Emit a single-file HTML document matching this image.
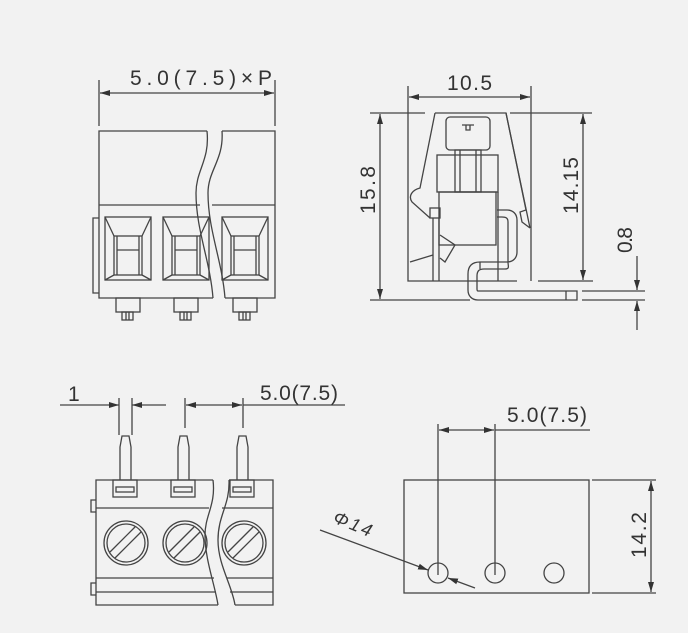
<!DOCTYPE html>
<html><head><meta charset="utf-8"><style>
html,body{margin:0;padding:0;background:#f2f2f2;}
svg{display:block;}
text{font-family:"Liberation Sans",sans-serif;fill:#333;}
</style></head><body>
<svg width="688" height="633" viewBox="0 0 688 633" xmlns="http://www.w3.org/2000/svg">
<defs>
<marker id="a" viewBox="0 0 10 6" refX="10" refY="3" markerWidth="10" markerHeight="6" orient="auto-start-reverse" markerUnits="userSpaceOnUse"><path d="M0,0 L10,3 L0,6 z" fill="#333"/></marker>
</defs>
<rect width="688" height="633" fill="#f2f2f2"/>
<g stroke="#444" stroke-width="1.3" fill="none">
<!-- TOP LEFT -->
<line x1="99" y1="80" x2="99" y2="126"/><line x1="275" y1="80" x2="275" y2="126"/>
<line x1="100" y1="93" x2="274" y2="93" marker-start="url(#a)" marker-end="url(#a)"/>
<path d="M207,131 H99 V298 H213"/>
<path d="M222,131 H275 V298 H225"/>
<path d="M207,131 C210,160 196,170 196,193 C196,230 210,260 213,298"/>
<path d="M222,131 C224,160 208,170 208,193 C208,230 222,260 225,298"/>
<line x1="99" y1="205" x2="200" y2="205"/><line x1="212" y1="205" x2="275" y2="205"/>
<path d="M99,218 H93 V293 H99"/>
<g id="w">
<rect x="105" y="217" width="46" height="63"/>
<rect x="114" y="236" width="28" height="39"/>
<line x1="117" y1="236" x2="117" y2="275"/><line x1="139" y1="236" x2="139" y2="275"/>
<line x1="117" y1="250" x2="139" y2="250"/>
<line x1="105" y1="217" x2="114" y2="236"/><line x1="151" y1="217" x2="142" y2="236"/>
<line x1="105" y1="280" x2="114" y2="275"/><line x1="151" y1="280" x2="142" y2="275"/>
<rect x="116" y="298" width="24" height="14"/>
<rect x="122" y="312" width="11" height="8"/>
<line x1="126" y1="312" x2="126" y2="320"/><line x1="129" y1="312" x2="129" y2="320"/>
</g>
<use href="#w" x="58"/><use href="#w" x="117"/>
<!-- TOP RIGHT -->
<line x1="408" y1="86" x2="408" y2="113"/><line x1="531" y1="86" x2="531" y2="113"/>
<line x1="409" y1="97" x2="530" y2="97" marker-start="url(#a)" marker-end="url(#a)"/>
<line x1="370" y1="113" x2="425" y2="113"/><line x1="510" y1="113" x2="592" y2="113"/>
<line x1="380" y1="114" x2="380" y2="299" marker-start="url(#a)" marker-end="url(#a)"/>
<line x1="583" y1="114" x2="583" y2="280" marker-start="url(#a)" marker-end="url(#a)"/>
<line x1="538" y1="281" x2="593" y2="281"/>
<line x1="370" y1="300" x2="470" y2="300"/>
<line x1="582" y1="291" x2="645" y2="291"/><line x1="582" y1="300" x2="645" y2="300"/>
<line x1="637" y1="256" x2="637" y2="290" marker-end="url(#a)"/>
<line x1="637" y1="330" x2="637" y2="301" marker-end="url(#a)"/>
<path d="M408,113 V281 H517"/>
<path d="M531,113 V281"/>
<path d="M435,113 H506 L530,228"/>
<path d="M435,113 L420,188 C412,190 408,196 412,202 L430,218"/>
<path d="M506,113 L526,210 L520,212 L522,222 L530,228"/>
<rect x="446" y="117" width="44" height="33" rx="4"/>
<path d="M462,125 H474 M466,125 V130 H470 V125"/>
<rect x="455" y="150" width="26" height="42"/>
<line x1="460" y1="150" x2="460" y2="192"/><line x1="476" y1="150" x2="476" y2="192"/>
<rect x="437" y="155" width="61" height="37"/>
<rect x="439" y="192" width="57" height="53"/>
<rect x="430" y="208" width="10" height="10"/>
<line x1="433" y1="218" x2="433" y2="281"/><line x1="439" y1="218" x2="439" y2="281"/>
<path d="M410,262 L433,255"/>
<path d="M440,235 L455,245 L445,262 L440,258"/>
<line x1="498" y1="192" x2="498" y2="281"/>
<path d="M497,210 H507 C513,210 517,214 517,220 V252 C517,258 513,262 507,262 H480 C472,262 468,266 468,274 V290 C468,296 472,300 478,300 H577 V291 H478 C477,291 477,290 477,289 V276 C477,271 479,269 484,269 H505 C510,269 508,266 508,262 V222 C508,218 506,217 502,217 H497"/>
<line x1="566" y1="291" x2="566" y2="300"/>
<line x1="480" y1="262" x2="480" y2="269"/>
<!-- BOTTOM LEFT -->
<line x1="60" y1="405" x2="119" y2="405" marker-end="url(#a)"/>
<line x1="166" y1="405" x2="132" y2="405" marker-end="url(#a)"/>
<line x1="119" y1="398" x2="119" y2="435"/><line x1="132" y1="398" x2="132" y2="435"/>
<line x1="185" y1="398" x2="185" y2="428"/><line x1="243" y1="398" x2="243" y2="428"/>
<line x1="186" y1="405" x2="242" y2="405" marker-start="url(#a)" marker-end="url(#a)"/>
<line x1="243" y1="405" x2="345" y2="405"/>
<g id="p">
<path d="M120,480 V447 L122,436 H129 L131,447 V480"/>
<rect x="113" y="480" width="24" height="17"/>
<rect x="116" y="487" width="18" height="5"/>
</g>
<use href="#p" x="58"/><use href="#p" x="117"/>
<path d="M213,480 H96 V605 H218"/>
<path d="M229,480 H273 V605 H235"/>
<path d="M213,480 C216,505 205,515 205,535 C205,560 215,585 218,605"/>
<path d="M229,480 C230,505 218,515 218,540 C218,565 232,585 235,605"/>
<line x1="96" y1="508" x2="209" y2="508"/><line x1="222" y1="508" x2="273" y2="508"/>
<line x1="96" y1="578" x2="214" y2="578"/><line x1="227" y1="578" x2="273" y2="578"/>
<line x1="96" y1="592" x2="216" y2="592"/><line x1="230" y1="592" x2="273" y2="592"/>
<path d="M96,500 H91 V512 H96 M96,583 H91 V595 H96"/>
<g id="s">
<circle cx="126" cy="543" r="22"/><circle cx="126" cy="543" r="19"/>
<line x1="110" y1="552" x2="135" y2="527"/><line x1="115" y1="558" x2="141" y2="532"/>
</g>
<use href="#s" x="59"/><use href="#s" x="118"/>
<!-- BOTTOM RIGHT -->
<rect x="404" y="480" width="185" height="113"/>
<line x1="438" y1="424" x2="438" y2="575"/><line x1="495" y1="424" x2="495" y2="575"/>
<line x1="439" y1="430" x2="494" y2="430" marker-start="url(#a)" marker-end="url(#a)"/>
<line x1="495" y1="430" x2="590" y2="430"/>
<line x1="592" y1="480" x2="656" y2="480"/><line x1="592" y1="593" x2="656" y2="593"/>
<line x1="651" y1="481" x2="651" y2="592" marker-start="url(#a)" marker-end="url(#a)"/>
<circle cx="438" cy="573" r="10"/><circle cx="495" cy="573" r="10"/><circle cx="554" cy="573" r="10"/>
<line x1="320" y1="530" x2="428" y2="570" marker-end="url(#a)"/>
<line x1="475" y1="588" x2="448" y2="578" marker-end="url(#a)"/>
</g>
<g font-size="21">
<text x="130" y="85" textLength="142" lengthAdjust="spacing">5.0(7.5)×P</text>
<text x="447" y="90" textLength="45" lengthAdjust="spacing">10.5</text>
<text x="375" y="214" textLength="48" lengthAdjust="spacing" transform="rotate(-90 375 214)">15.8</text>
<text x="578" y="214" textLength="57" lengthAdjust="spacing" transform="rotate(-90 578 214)">14.15</text>
<text x="632" y="253" textLength="26" lengthAdjust="spacing" transform="rotate(-90 632 253)">0.8</text>
<text x="68" y="401">1</text>
<text x="260" y="400" textLength="78" lengthAdjust="spacing">5.0(7.5)</text>
<text x="507" y="422" textLength="80" lengthAdjust="spacing">5.0(7.5)</text>
<text x="646" y="558" textLength="46" lengthAdjust="spacing" transform="rotate(-90 646 558)">14.2</text>
<text x="332" y="522" font-size="18" font-style="italic" textLength="40" lengthAdjust="spacing" transform="rotate(22 332 522)">Φ14</text>
</g>
</svg>
</body></html>
